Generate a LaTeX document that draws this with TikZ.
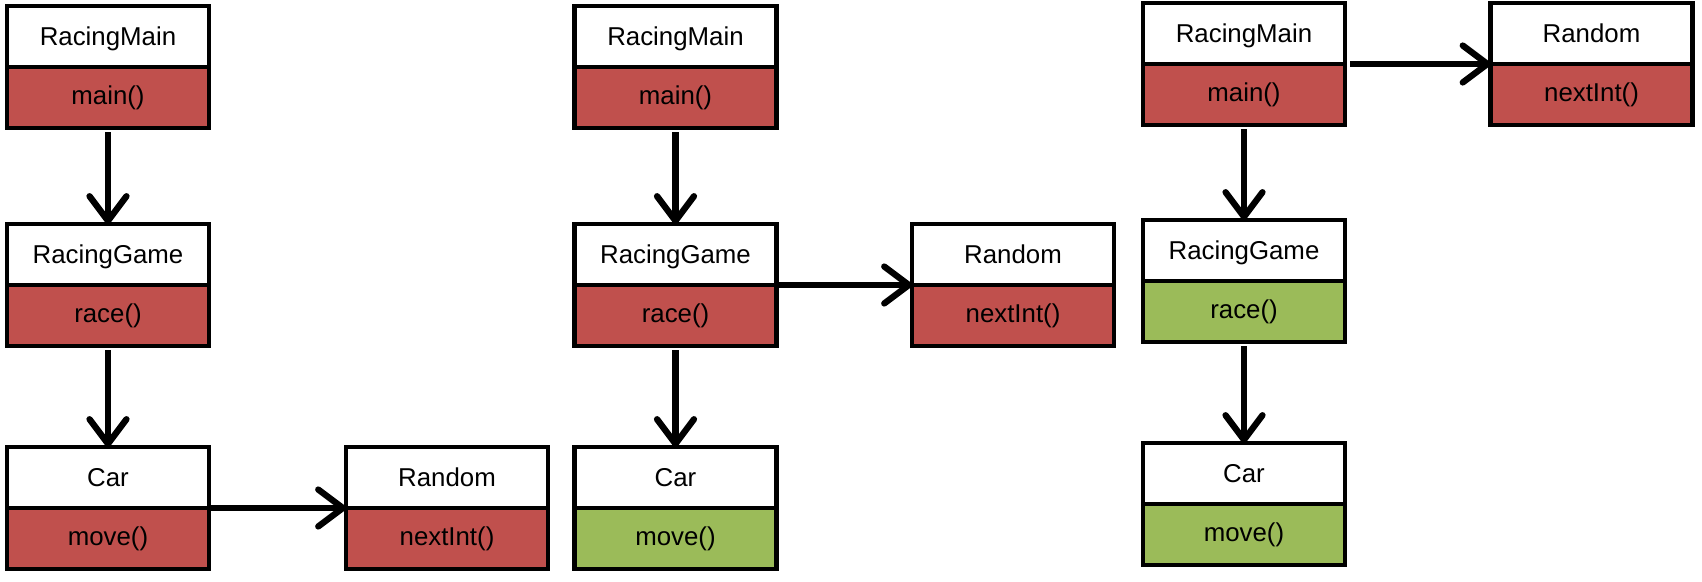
\documentclass[tikz,border=0pt]{standalone}
\usepackage{fontspec}
\setmainfont{Liberation Sans}
\usetikzlibrary{arrows.meta,positioning}
\definecolor{callred}{RGB}{192,80,77}
\definecolor{donegreen}{RGB}{155,187,89}

\begin{document}
\begin{tikzpicture}[x=0.02cm, y=-0.02cm,
  box/.style={draw, line width=2.5pt, minimum width=4.04cm, minimum height=1.22cm,
    inner sep=0pt, outer sep=0pt, font=\fontsize{14.7}{17}\selectfont},
  cls/.style={box, fill=white, anchor=north, text height=10.6pt, text depth=0pt},
  meth/.style={box, fill=callred, below=0pt of #1, text height=7.6pt, text depth=0pt},
  done/.style={meth=#1, fill=donegreen},
  call/.style={line width=3.6pt, -{Straight Barb[length=14pt, width=21pt, round]}}]

  \useasboundingbox (0,0) rectangle (1702,581);

  %first stack: all calls still open
  \node[cls] (main1) at (108,6) {RacingMain};
  \node[meth=main1] (main1m) {main()};
  \node[cls] (game1) at (108,224) {RacingGame};
  \node[meth=game1] (game1m) {race()};
  \node[cls] (car1) at (108,447) {Car};
  \node[meth=car1] (car1m) {move()};
  \node[cls] (rand1) at (447,447) {Random};
  \node[meth=rand1] (rand1m) {nextInt()};

  \draw[call, shorten <=2.3pt] (main1m.south) -- (game1.north);
  \draw[call, shorten <=2.3pt] (game1m.south) -- (car1.north);
  \draw[call] (car1.south east) -- (rand1.south west);

  %second stack: move() returned
  \node[cls] (main2) at (675.5,6) {RacingMain};
  \node[meth=main2] (main2m) {main()};
  \node[cls] (game2) at (675.5,224) {RacingGame};
  \node[meth=game2] (game2m) {race()};
  \node[cls] (car2) at (675.5,447) {Car};
  \node[done=car2] (car2m) {move()};
  \node[cls] (rand2) at (1013,224) {Random};
  \node[meth=rand2] (rand2m) {nextInt()};

  \draw[call, shorten <=2.3pt] (main2m.south) -- (game2.north);
  \draw[call, shorten <=2.3pt] (game2m.south) -- (car2.north);
  \draw[call] (game2.south east) -- (rand2.south west);

  %third stack: race() returned
  \node[cls] (main3) at (1244,3) {RacingMain};
  \node[meth=main3] (main3m) {main()};
  \node[cls] (game3) at (1244,220) {RacingGame};
  \node[done=game3] (game3m) {race()};
  \node[cls] (car3) at (1244,443) {Car};
  \node[done=car3] (car3m) {move()};
  \node[cls] (rand3) at (1591.5,3) {Random};
  \node[meth=rand3] (rand3m) {nextInt()};

  \draw[call, shorten <=2.3pt] (main3m.south) -- (game3.north);
  \draw[call, shorten <=2.3pt] (game3m.south) -- (car3.north);
  \draw[call, shorten <=3pt] (main3.south east) -- (rand3.south west);

\end{tikzpicture}
\end{document}
